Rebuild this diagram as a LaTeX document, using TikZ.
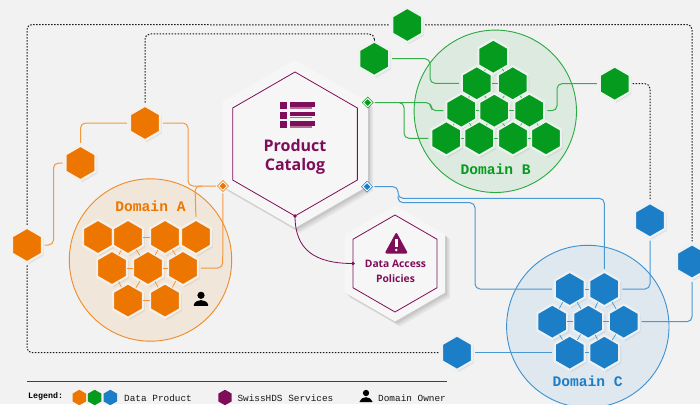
\documentclass[tikz,border=0pt]{standalone}
\usepackage{fontspec}
\usetikzlibrary{shapes.geometric,shadows}
\newfontfamily\labelfont{Open Sans}
\newfontfamily\monofont{Liberation Mono}
\definecolor{pagegray}{HTML}{F2F2F2}
\definecolor{halogray}{HTML}{F6F6F6}
\definecolor{dpOrange}{HTML}{EC7600}
\definecolor{dpGreen}{HTML}{049B1E}
\definecolor{dpBlue}{HTML}{1C7EC7}
\definecolor{hdsPurple}{HTML}{7E0E59}
\tikzset{
  sixgon/.style={regular polygon,regular polygon sides=6,shape border rotate=30,inner sep=0pt,outer sep=0pt},
  softshadow/.style={
    drop shadow={shadow xshift=1pt,shadow yshift=-1pt,opacity=.07,fill=black},
    drop shadow={shadow xshift=2pt,shadow yshift=-2pt,opacity=.05,fill=black}},
  bigshadow/.style={
    drop shadow={shadow xshift=5pt,shadow yshift=-5pt,opacity=.05,fill=black},
    drop shadow={shadow xshift=3.5pt,shadow yshift=-3.5pt,opacity=.06,fill=black},
    drop shadow={shadow xshift=2pt,shadow yshift=-2pt,opacity=.07,fill=black}},
  hexa/.style={sixgon,minimum size=34.5pt,line width=2.2pt,softshadow},
  hexorange/.style={hexa,fill=dpOrange,draw=dpOrange!5!halogray},
  hexgreen/.style={hexa,fill=dpGreen,draw=dpGreen!4!halogray},
  hexblue/.style={hexa,fill=dpBlue,draw=dpBlue!4!halogray},
  halo/.style={sixgon,fill=halogray,bigshadow},
  service/.style={sixgon,fill=halogray,draw=hdsPurple,line width=.8pt},
  domaindisc/.style={circle,inner sep=0pt,outer sep=0pt,minimum size=162.4pt,line width=.9pt},
  domainlabel/.style={font=\monofont\bfseries\fontsize{14.6}{16}\selectfont,inner sep=0pt},
  port/.style={diamond,inner sep=0pt,outer sep=0pt,minimum size=8.5pt,line width=.6pt,
    double=white,double distance=1pt},
  linkorange/.style={draw=dpOrange!75!white,line width=1pt,rounded corners=5pt,shorten <=3pt,shorten >=3pt},
  linkgreen/.style={draw=dpGreen!80!white,line width=1pt,rounded corners=5pt,shorten <=3pt,shorten >=3pt},
  linkblue/.style={draw=dpBlue!80!white,line width=1pt,rounded corners=5pt,shorten <=3pt,shorten >=3pt},
  gridorange/.style={draw=dpOrange!80!white,line width=.7pt},
  gridgreen/.style={draw=dpGreen!80!white,line width=.7pt},
  gridblue/.style={draw=dpBlue!80!white,line width=.7pt},
  dashlink/.style={draw=black!90,line width=1pt,dash pattern=on 1.5pt off 1.5pt,rounded corners=5pt,shorten <=3pt,shorten >=3pt},
  legendhex/.style={sixgon,minimum size=15.5pt},
  legendtext/.style={font=\monofont\fontsize{9.4}{10}\selectfont,anchor=west,inner sep=0pt,text=black!90},
  personicon/.pic={
    \fill[black] (0,0) circle (3.6);
    \fill[black] (-7.2,10.5) -- (-7.2,9.5) .. controls (-6.5,6.5) and (-3,4.8) .. (0,4.8)
      .. controls (3,4.8) and (6.5,6.5) .. (7.2,9.5) -- (7.2,10.5) -- cycle;
  }
}
\begin{document}
\begin{tikzpicture}[x=1pt,y=-1pt]
\useasboundingbox (0,0) rectangle (700,404);
\clip (0,0) rectangle (700,404);
\fill[pagegray] (0,0) rectangle (700,404);

% Domains
\node[domaindisc,draw=dpOrange!85!white,fill=dpOrange!10!pagegray] (domA) at (150.5,260) {};
\node[domaindisc,draw=dpGreen!85!white,fill=dpGreen!9!pagegray] (domB) at (495.3,111.3) {};
\node[domaindisc,draw=dpBlue!85!white,fill=dpBlue!9!pagegray] (domC) at (587.8,326.5) {};

% Services
\node[halo,minimum size=168pt] (catalogHalo) at (295,144) {};
\node[service,minimum size=144pt] (catalog) at (295,144) {};
\node[halo,minimum size=116pt] (policiesHalo) at (395,263.5) {};
\node[service,minimum size=97pt] (policies) at (395,263.5) {};

% Data products of domain A
\foreach \name/\x/\y in {a1/98/237,a2/128/237,a3/165/237,a4/196/237,
                         a5/112/268,a6/148/268,a7/183/268,
                         a8/128/300.6,a9/165/300.6,
                         oa1/145/123,oa2/80.5/163,oa3/27/245}
  \node[hexorange] (\name) at (\x,\y) {};

% Data products of domain B
\foreach \name/\x/\y in {b1/493.3/56.7,
                         b2/476.7/83.3,b3/512.7/83.3,
                         b4/461.3/110.7,b5/494.3/110.7,b6/529.3/110.7,
                         b7/446.3/138.3,b8/479.3/138.3,b9/513/138.3,b10/546/138.3,
                         ob1/407.3/25,ob2/374.3/58.7,ob3/614.7/83.7}
  \node[hexgreen] (\name) at (\x,\y) {};

% Data products of domain C
\foreach \name/\x/\y in {c1/569.7/289,c2/604.3/289,
                         c3/552.3/321.7,c4/588.3/321.7,c5/623.7/321.7,
                         c6/569.7/352.7,c7/604.3/352.7,
                         oc1/650/220.3,oc2/692/261.5,oc3/457/352.7}
  \node[hexblue] (\name) at (\x,\y) {};

% Grid inside the domains
\foreach \from/\to in {a2/a3,a2/a5,a2/a6,a3/a6,a3/a7,a5/a6,a6/a7,a5/a8,a6/a8,a6/a9,a7/a9,a8/a9}
  \draw[gridorange] (\from) -- (\to);
\foreach \from/\to in {b1/b2,b1/b3,b2/b3,b2/b4,b2/b5,b3/b5,b3/b6,b4/b5,b5/b6,
                       b4/b7,b4/b8,b5/b8,b5/b9,b6/b9,b6/b10,b7/b8,b8/b9,b9/b10}
  \draw[gridgreen] (\from) -- (\to);
\foreach \from/\to in {c1/c2,c1/c3,c1/c4,c2/c4,c2/c5,c3/c4,c4/c5,c3/c6,c4/c6,c4/c7,c5/c7,c6/c7}
  \draw[gridblue] (\from) -- (\to);

% Ports on the catalog
\node[port,draw=dpOrange,fill=dpOrange] (portA) at (223,186) {};
\node[port,draw=dpGreen,fill=dpGreen] (portB) at (367.7,102.5) {};
\node[port,draw=dpBlue,fill=dpBlue] (portC) at (367,186.7) {};

% Domain A connectors
\draw[linkorange] (oa1.east) -- (188,123) -- (188,186) -- (portA.west);
\draw[linkorange] (oa1.west) -- (80.5,123) -- (oa2.north);
\draw[linkorange] (oa2.west) -- (53.5,163) -- (53.5,245) -- (oa3.east);
\draw[linkorange] (205,186) -- (195,186) -- (a4.north);
\draw[linkorange] (portA.south) -- (222.7,268) -- (a7.east);

% Domain B connectors
\draw[linkgreen] (ob2.east) -- (430,58.7) -- (430,83.3) -- (b2.west);
\draw[linkgreen] (portB.east) -- (431,102.5) -- (431,110.7) -- (b4.west);
\draw[linkgreen] (398,102.5) -- (404,102.5) -- (404,138.3) -- (b7.west);
\draw[linkgreen] (b6.east) -- (557,110.7) -- (557,83.7) -- (ob3.west);

% Domain C connectors
\draw[linkblue] (portC.east) -- (398,186.7) -- (398,198.3) -- (604.3,198.3) -- (c2.north);
\draw[linkblue] (398,193) -- (398,202.7) -- (475,202.7) -- (475,289) -- (c1.west);
\draw[linkblue] (oc1.south) -- (650,289) -- (c2.east);
\draw[linkblue] (oc2.south) -- (692,321.7) -- (c5.east);
\draw[linkblue] (oc3.east) -- (c6.west);

% Links between the domains
\draw[dashlink] (oa3.north) -- (27,24.5) -- (ob1.west);
\draw[dashlink] (ob1.east) -- (692,24.5) -- (oc2.north);
\draw[dashlink] (oa3.south) -- (27,352.7) -- (oc3.west);
\draw[dashlink] (oa1.north) -- (145,34) -- (374.3,34) -- (ob2.north);
\draw[dashlink] (ob3.east) -- (650,83.7) -- (oc1.north);

% Catalog to policies
\draw[hdsPurple,line width=.8pt] (catalog.south) .. controls (295,250) and (315,263.5) .. (policies.west);
\fill[hdsPurple] (catalog.south) circle (1.8);
\fill[hdsPurple] (policies.west) circle (1.8);

% Catalog icon
\foreach \y in {102,111.5,121} {
  \fill[hdsPurple] (280,\y) rectangle (287,\y+7);
  \fill[hdsPurple] (289.5,\y) rectangle (315,\y+4.5);
  \fill[hdsPurple!60!white] (289.5,\y+5) rectangle (312,\y+6.5);
}

% Warning icon
\fill[hdsPurple,rounded corners=2pt] (396.3,232) -- (408,253.5) -- (384.6,253.5) -- cycle;
\fill[white] (395.1,238.5) rectangle (397.5,247);
\fill[white] (396.3,250) circle (1.4);

% Labels
\node[font=\labelfont\bfseries\fontsize{16}{19}\selectfont,text=hdsPurple,align=center,inner sep=0pt] (catalogLabel) at (295,156.5) {Product\\Catalog};
\node[font=\labelfont\bfseries\fontsize{10.3}{15}\selectfont,text=hdsPurple,align=center,inner sep=0pt] (policiesLabel) at (395.5,271.5) {Data Access\\Policies};
\node[domainlabel,text=dpOrange] (labelA) at (150.5,206) {Domain A};
\node[domainlabel,text=dpGreen] (labelB) at (495.7,169) {Domain B};
\node[domainlabel,text=dpBlue] (labelC) at (587.7,381.3) {Domain C};
\pic at (201,295.3) {personicon};

% Legend
\draw[black!75,line width=1pt] (27.3,381.3) -- (446.7,381.3);
\node[font=\monofont\bfseries\fontsize{8.3}{9}\selectfont,anchor=west,inner sep=0pt] (legendTitle) at (28,396.5) {Legend:};
\node[legendhex,fill=dpOrange] (legOrange) at (79.3,397.5) {};
\node[legendhex,fill=dpGreen] (legGreen) at (94.7,397.5) {};
\node[legendhex,fill=dpBlue] (legBlue) at (110.3,397.5) {};
\node[legendtext] (legProduct) at (124,398.5) {Data Product};
\node[legendhex,fill=hdsPurple] (legService) at (225,397.5) {};
\node[legendtext] (legServices) at (237.3,398.5) {SwissHDS Services};
\pic[scale=.88] at (366,393) {personicon};
\node[legendtext] (legOwner) at (378,398.5) {Domain Owner};
\end{tikzpicture}
\end{document}
